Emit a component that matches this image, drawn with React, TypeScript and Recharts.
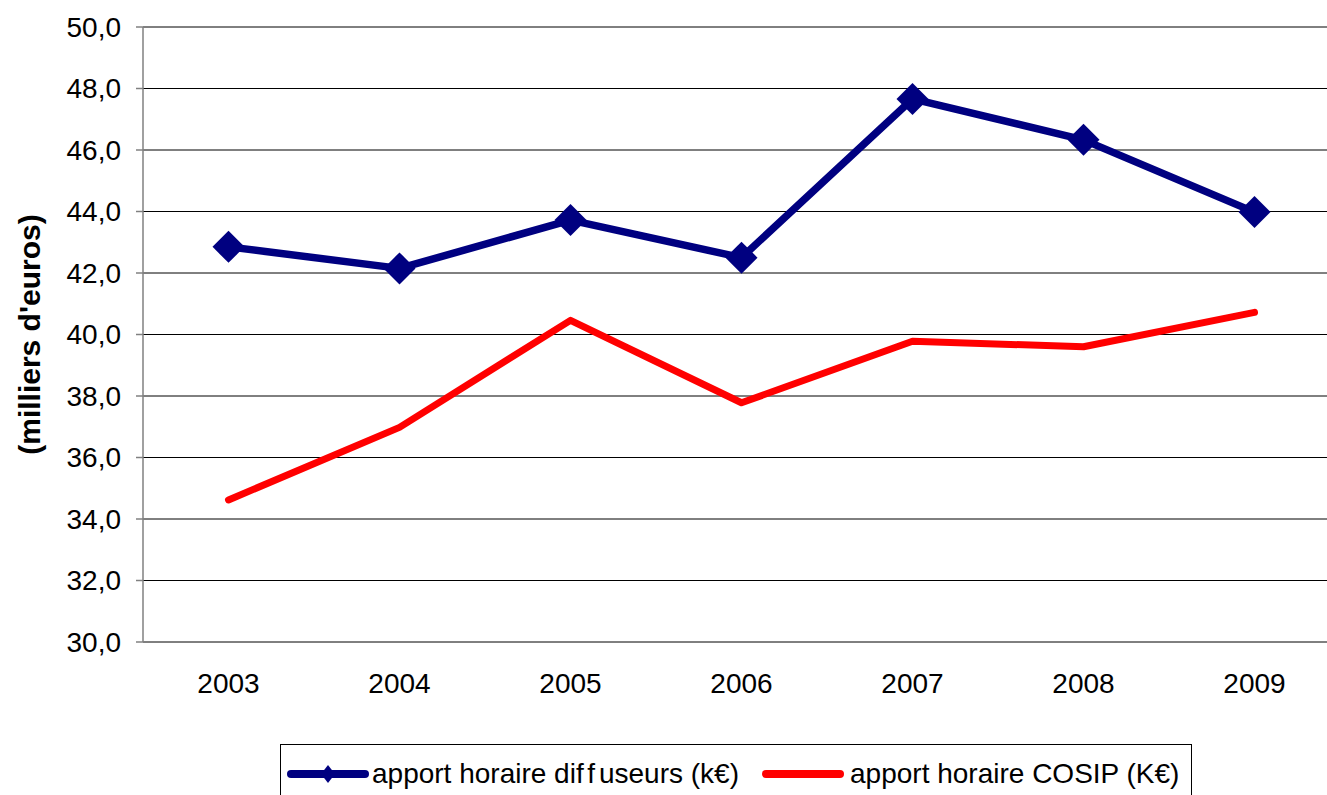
import React from 'react';
import {
  LineChart, Line, XAxis, YAxis, CartesianGrid, Legend
} from 'recharts';

const YEARS = ['2003', '2004', '2005', '2006', '2007', '2008', '2009'];
const DIFFUSEURS = [42.85, 42.15, 43.72, 42.5, 47.66, 46.33, 43.98];
const COSIP = [34.62, 36.98, 40.46, 37.78, 39.78, 39.6, 40.72];
const Y_TICKS = [30, 32, 34, 36, 38, 40, 42, 44, 46, 48, 50];

const BLUE = '#000080';
const RED = '#FF0000';
const FONT = '"Liberation Sans", Arial, sans-serif';

// x is the band centre (0.5, 1.5, ...) so tick marks can sit on band edges
const data = YEARS.map((year, i) => ({
  x: i + 0.5,
  year,
  diffuseurs: DIFFUSEURS[i],
  cosip: COSIP[i],
}));

const centreTicks = YEARS.map((_, i) => i + 0.5);
const edgeTicks = YEARS.map((_, i) => i).concat(YEARS.length);

const Diamond = (props: any) => {
  const { cx, cy } = props;
  if (cx == null || cy == null) return null;
  const r = 16;
  return (
    <path
      d={`M${cx},${cy - r}L${cx + r},${cy}L${cx},${cy + r}L${cx - r},${cy}Z`}
      fill={BLUE}
      stroke="none"
    />
  );
};

const LegendBox = () => (
  <div
    style={{
      border: '1px solid #000',
      background: '#fff',
      display: 'flex',
      alignItems: 'center',
      height: 60,
      boxSizing: 'border-box',
      paddingLeft: 6,
      fontFamily: FONT,
      fontSize: 28,
      color: '#000',
      whiteSpace: 'nowrap',
    }}
  >
    <svg width={82} height={30} style={{ marginRight: 3 }}>
      <line x1={4} y1={15} x2={78} y2={15} stroke={BLUE} strokeWidth={8} strokeLinecap="round" />
      <path d="M41,6L48,15L41,24L34,15Z" fill={BLUE} />
    </svg>
    <span style={{ marginRight: 23 }}>
      apport horaire di<span style={{ letterSpacing: 4 }}>ff</span>useurs (k€)
    </span>
    <svg width={82} height={30} style={{ marginRight: 6 }}>
      <line x1={4} y1={15} x2={78} y2={15} stroke={RED} strokeWidth={8} strokeLinecap="round" />
    </svg>
    <span>apport horaire COSIP (K€)</span>
  </div>
);

export default function App() {
  return (
    <div
      style={{
        position: 'fixed',
        left: 0,
        top: 0,
        width: 1327,
        height: 795,
        overflow: 'hidden',
        background: '#fff',
      }}
    >
      <LineChart
        width={1345}
        height={795}
        data={data}
        margin={{ top: 27, right: 5, bottom: 93, left: 0 }}
      >
        <CartesianGrid vertical={false} stroke="#000" strokeWidth={1} />
        <XAxis
          xAxisId="edges"
          type="number"
          dataKey="x"
          domain={[0, YEARS.length]}
          ticks={edgeTicks}
          tick={false}
          tickSize={8}
          height={0}
          stroke="#808080"
          strokeWidth={1.5}
        />
        <XAxis
          type="number"
          dataKey="x"
          domain={[0, YEARS.length]}
          ticks={centreTicks}
          tickFormatter={(v: number) => YEARS[Math.floor(v)]}
          axisLine={false}
          tickLine={false}
          tickSize={0}
          tickMargin={31}
          height={60}
          interval={0}
          tick={{ fill: '#000', fontSize: 28, fontFamily: FONT }}
        />
        <YAxis
          domain={[30, 50]}
          ticks={Y_TICKS}
          interval={0}
          width={143}
          tickSize={7}
          tickMargin={15}
          stroke="#808080"
          strokeWidth={1.5}
          tickFormatter={(v: number) => v.toFixed(1).replace('.', ',')}
          tick={{ fill: '#000', fontSize: 28, fontFamily: FONT }}
          label={{
            value: "(milliers d'euros)",
            angle: -90,
            position: 'insideLeft',
            offset: 0,
            dx: 29,
            style: { textAnchor: 'middle', fontWeight: 'bold', fontSize: 30, fontFamily: FONT, fill: '#000' },
          }}
        />
        <Line
          type="linear"
          dataKey="cosip"
          stroke={RED}
          strokeWidth={7}
          dot={false}
          activeDot={false}
          strokeLinecap="round"
          strokeLinejoin="round"
          isAnimationActive={false}
        />
        <Line
          type="linear"
          dataKey="diffuseurs"
          stroke={BLUE}
          strokeWidth={7.5}
          dot={<Diamond />}
          activeDot={false}
          strokeLinejoin="round"
          isAnimationActive={false}
        />
        <Legend
          layout="horizontal"
          verticalAlign="middle"
          align="center"
          content={<LegendBox />}
          wrapperStyle={{ top: 744, left: 280, width: 912, height: 60 }}
        />
      </LineChart>
    </div>
  );
}
